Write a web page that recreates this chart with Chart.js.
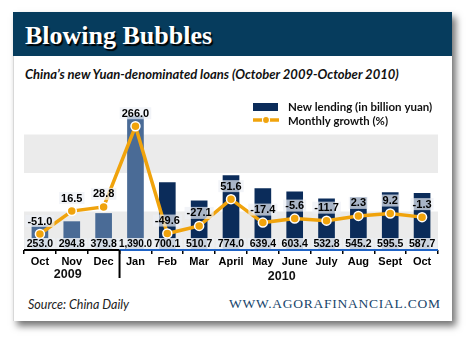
<!DOCTYPE html>
<html>
<head>
<meta charset="utf-8">
<script src="https://cdn.jsdelivr.net/npm/chart.js@4/dist/chart.umd.min.js"></script>
<style>
  html, body { margin: 0; padding: 0; background: #fff; }
  body { width: 470px; height: 341px; position: relative; overflow: hidden; }
  .card {
    position: absolute; left: 13px; top: 12px; width: 439px; height: 309px;
    background: #fff; border-left: 1px solid #d8d8d8; box-sizing: border-box;
    box-shadow: 4px 5px 7px rgba(0,0,0,0.55);
  }
  .header {
    position: absolute; left: 13px; top: 12px; width: 439px; height: 44px;
    background: #063c5d;
  }
  .title {
    position: absolute; left: 25px; top: 21px; line-height: 26px;
    font: bold 26px "Liberation Serif", serif; color: #fff;
    text-shadow: 1.5px 1.5px 1px #000;
  }
  .subtitle {
    position: absolute; left: 25px; top: 66px; line-height: 14px;
    font: italic bold 13px Lato, sans-serif; color: #111;
  }
  .source {
    position: absolute; left: 28px; top: 297px; line-height: 14px;
    font: italic 12.5px Lato, sans-serif; color: #222;
  }
  .site {
    position: absolute; left: 229px; top: 296px; line-height: 14px;
    font: 13.5px "Liberation Serif", serif; color: #17456b; letter-spacing: 0.75px;
  }
  #chart-wrap { position: absolute; left: 13px; top: 80px; width: 439px; height: 210px; }
</style>
</head>
<body>
<div class="card"></div>
<div class="header"></div>
<div class="title">Blowing Bubbles</div>
<div class="subtitle">China’s new Yuan-denominated loans (October 2009-October 2010)</div>
<div id="chart-wrap"><canvas id="chart"></canvas></div>
<div class="source">Source: China Daily</div>
<div class="site">WWW.AGORAFINANCIAL.COM</div>

<script>
const months = ['Oct', 'Nov', 'Dec', 'Jan', 'Feb', 'Mar', 'April', 'May', 'June', 'July', 'Aug', 'Sept', 'Oct'];
const years = [{ label: '2009', from: 0, to: 2 }, { label: '2010', from: 3, to: 12 }];
const lending = [253.0, 294.8, 379.8, 1390.0, 700.1, 510.7, 774.0, 639.4, 603.4, 532.8, 545.2, 595.5, 587.7];
const growth = [-51.0, 16.5, 28.8, 266.0, -49.6, -27.1, 51.6, -17.4, -5.6, -11.7, 2.3, 9.2, -1.3];
const bandTicks = [0, 400, 800, 1200, 1600];

const NAVY = '#0b2c5a';
const STEEL = '#4a6b96';
const ORANGE = '#f0a30c';

const fmt = v => v.toLocaleString('en-US', { minimumFractionDigits: 1, maximumFractionDigits: 1 });

function labelBox(ctx, text, cx, cy, font, bg, maxW) {
  ctx.font = font;
  const w = Math.min(ctx.measureText(text).width, maxW);
  ctx.fillStyle = bg;
  ctx.fillRect(cx - w / 2 - 2, cy - 6, w + 4, 12);
  ctx.fillStyle = '#000';
  ctx.textAlign = 'center';
  ctx.textBaseline = 'middle';
  ctx.fillText(text, cx, cy + 0.5, maxW);
}

// alternating grey bands behind the bars
const bands = {
  id: 'bands',
  beforeDatasetsDraw(chart) {
    const { ctx, chartArea: a, scales: { y } } = chart;
    ctx.save();
    ctx.fillStyle = '#ebebeb';
    for (let i = 0; i < bandTicks.length - 1; i += 2) {
      const top = y.getPixelForValue(bandTicks[i + 1]);
      const bot = y.getPixelForValue(bandTicks[i]);
      ctx.fillRect(a.left, top, a.right - a.left, bot - top);
    }
    ctx.restore();
  }
};

// value boxes, axis line, year labels and legend
const extras = {
  id: 'extras',
  afterDatasetsDraw(chart) {
    const { ctx, chartArea: a, scales: { x } } = chart;
    ctx.save();
    const barMeta = chart.getDatasetMeta(0);
    const lineMeta = chart.getDatasetMeta(1);

    lending.forEach((v, i) => {
      labelBox(ctx, fmt(v), barMeta.data[i].x, a.bottom - 6, 'bold 10.5px "Liberation Sans", Arial', 'rgba(236,240,245,0.85)', 33);
    });
    growth.forEach((v, i) => {
      const p = lineMeta.data[i];
      labelBox(ctx, fmt(v), p.x, p.y - 13, 'bold 11px "Liberation Sans", Arial', 'rgba(236,240,245,0.7)', 40);
    });

    // axis line: black under 2009, blue under 2010
    const split = (x.getPixelForValue(2) + x.getPixelForValue(3)) / 2;
    ctx.lineWidth = 2;
    ctx.strokeStyle = '#000';
    ctx.beginPath(); ctx.moveTo(a.left, a.bottom); ctx.lineTo(split, a.bottom); ctx.stroke();
    ctx.strokeStyle = '#1f63c6';
    ctx.beginPath(); ctx.moveTo(split, a.bottom); ctx.lineTo(a.right, a.bottom); ctx.stroke();
    ctx.strokeStyle = '#000';
    ctx.beginPath(); ctx.moveTo(split, a.bottom); ctx.lineTo(split, a.bottom + 28); ctx.stroke();

    ctx.font = 'bold 12.5px "Liberation Sans", Arial';
    ctx.fillStyle = '#111';
    ctx.textAlign = 'center';
    ctx.textBaseline = 'middle';
    years.forEach((yr, k) => {
      const cx = (x.getPixelForValue(yr.from) + x.getPixelForValue(yr.to)) / 2 - (k === 0 ? 4 : -3);
      ctx.fillText(yr.label, cx, a.bottom + 25 + k * 2);
    });

    // legend
    const lx = 240, ly = 27;
    ctx.fillStyle = NAVY;
    ctx.fillRect(lx, ly - 4, 25, 8);
    ctx.strokeStyle = ORANGE;
    ctx.lineWidth = 3.5;
    ctx.beginPath(); ctx.moveTo(lx, ly + 13); ctx.lineTo(lx + 26, ly + 13); ctx.stroke();
    ctx.beginPath(); ctx.arc(lx + 13, ly + 13, 3.5, 0, Math.PI * 2);
    ctx.fillStyle = ORANGE; ctx.fill();
    ctx.lineWidth = 1.2; ctx.strokeStyle = '#fff'; ctx.stroke();
    ctx.fillStyle = '#111';
    ctx.textAlign = 'left';
    ctx.font = 'bold 11.5px Lato, sans-serif';
    ctx.fillText('New lending (in billion yuan)', lx + 35, ly, 145);
    ctx.fillText('Monthly growth (%)', lx + 35, ly + 14, 100);
    ctx.restore();
  }
};

new Chart(document.getElementById('chart'), {
  data: {
    labels: months,
    datasets: [
      {
        type: 'bar',
        label: 'New lending (in billion yuan)',
        data: lending,
        yAxisID: 'y',
        backgroundColor: lending.map((v, i) => i < 4 ? STEEL : NAVY),
        barThickness: 16,
        order: 2
      },
      {
        type: 'line',
        label: 'Monthly growth (%)',
        data: growth,
        yAxisID: 'y2',
        borderColor: ORANGE,
        borderWidth: 3.5,
        pointRadius: 4.5,
        pointBackgroundColor: ORANGE,
        pointBorderColor: '#fff',
        pointBorderWidth: 1.5,
        tension: 0,
        order: 1
      }
    ]
  },
  options: {
    responsive: true,
    maintainAspectRatio: false,
    animation: false,
    layout: { padding: { left: 11, right: 14, top: 16, bottom: 0 } },
    plugins: { legend: { display: false }, tooltip: { enabled: false } },
    scales: {
      x: {
        offset: true,
        afterFit: s => { s.height = 40; },
        grid: { offset: true, drawOnChartArea: false, drawTicks: true, tickLength: 4, color: '#000', lineWidth: 1.5 },
        border: { display: false },
        ticks: { color: '#000', padding: 1, font: { family: '"Liberation Sans", Arial', weight: 'bold', size: 11 }, autoSkip: false, maxRotation: 0 }
      },
      y: { display: false, min: 0, max: 1600 },
      y2: { display: false, min: -98, max: 355 }
    }
  },
  plugins: [bands, extras]
});
</script>
</body>
</html>
